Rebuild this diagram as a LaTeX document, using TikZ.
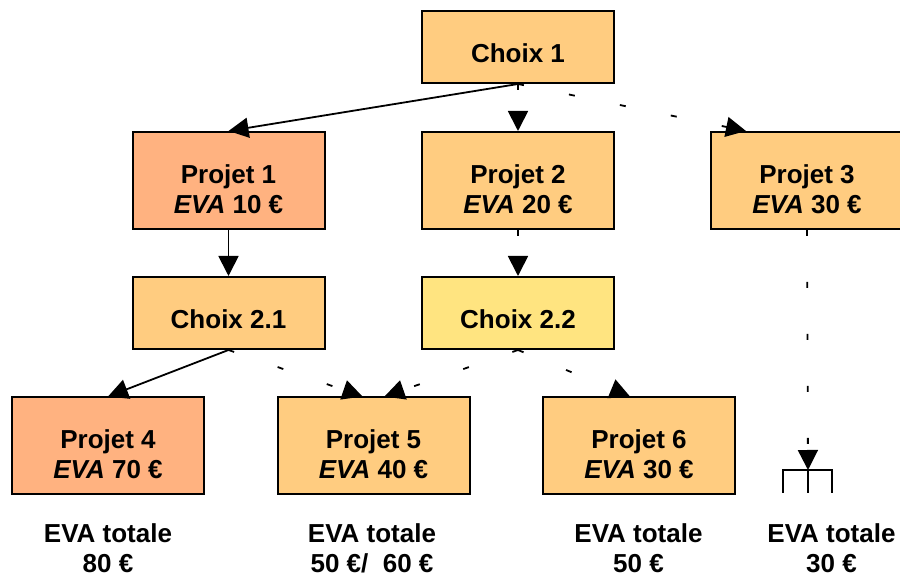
\documentclass[tikz,border=0pt]{standalone}
\usepackage{fontspec}
\setmainfont{Liberation Sans}
\usetikzlibrary{arrows.meta}

\definecolor{peche}{RGB}{255,178,128}
\definecolor{abricot}{RGB}{255,204,128}
\definecolor{paille}{RGB}{255,228,128}

\begin{document}
\begin{tikzpicture}[
    x = 1pt,
    y = 1pt,
    boite/.style = {
        draw,
        rectangle,
        line width = 2pt,
        minimum width = 192pt,
        inner sep = 0pt,
        align = center,
        font = \fontsize{26}{30}\selectfont\bfseries
    },
    choix/.style = {boite, fill = abricot, minimum height = 72pt, text height = 31pt},
    projet/.style = {boite, fill = abricot, minimum height = 97pt, text height = 66pt},
    total/.style = {align = center, inner sep = 0pt, font = \fontsize{26}{30}\selectfont\bfseries},
    lien/.style = {line width = 1.8pt, -{Triangle[length = 20pt, width = 20pt]}},
    option/.style = {lien, dash pattern = on 6pt off 46pt}
]
\useasboundingbox (0, 0) rectangle (900, 575);

% First choice
\node[choix] (c1) at (518, 528) {Choix 1};

% Projects of the first level
\node[projet, fill = peche] (p1) at (228.5, 394.5) {Projet 1\\\textit{EVA} 10~€};
\node[projet] (p2) at (518, 394.5) {Projet 2\\\textit{EVA} 20~€};
\node[projet] (p3) at (807, 394.5) {Projet 3\\\textit{EVA} 30~€};

% Second choices
\node[choix] (c21) at (228.5, 262) {Choix 2.1};
\node[choix, fill = paille] (c22) at (518, 262) {Choix 2.2};

% Projects of the second level
\node[projet, fill = peche] (p4) at (108, 129) {Projet 4\\\textit{EVA} 70~€};
\node[projet] (p5) at (373.5, 129) {Projet 5\\\textit{EVA} 40~€};
\node[projet] (p6) at (639, 129) {Projet 6\\\textit{EVA} 30~€};

% End of the branch of Projet 3
\coordinate (fourche) at (808, 105);

% Links
\draw[lien] (c1.south) -- (p1.north);
\draw[option] (c1.south) -- (p2.north);
\draw[option] (c1.south) -- ([xshift = 36pt]p3.north west);
\draw[lien] (p1.south) -- (c21.north);
\draw[option] (p2.south) -- (c22.north);
\draw[option] (p3.south) -- (fourche);
\draw[lien] (c21.south) -- (p4.north);
\draw[option] (c21.south) -- ([xshift = -11pt]p5.north);
\draw[option] (c22.south) -- ([xshift = 11pt]p5.north);
\draw[option] (c22.south) -- ([xshift = -9pt]p6.north);

% Fork
\draw[line width = 2pt] ([shift = {(-25, -23)}]fourche) |- ([xshift = 24pt]fourche) -- ++(0, -23);
\draw[line width = 2pt] (fourche) -- ++(0, -23);

% Totals
\node[total] (t4) at (108, 27) {EVA totale\\80~€};
\node[total] (t5) at (372, 27) {EVA totale\\50~€/\ \ 60~€};
\node[total] (t6) at (638.5, 27) {EVA totale\\50~€};
\node[total] (t3) at (831.5, 27) {EVA totale\\30~€};

\end{tikzpicture}
\end{document}
